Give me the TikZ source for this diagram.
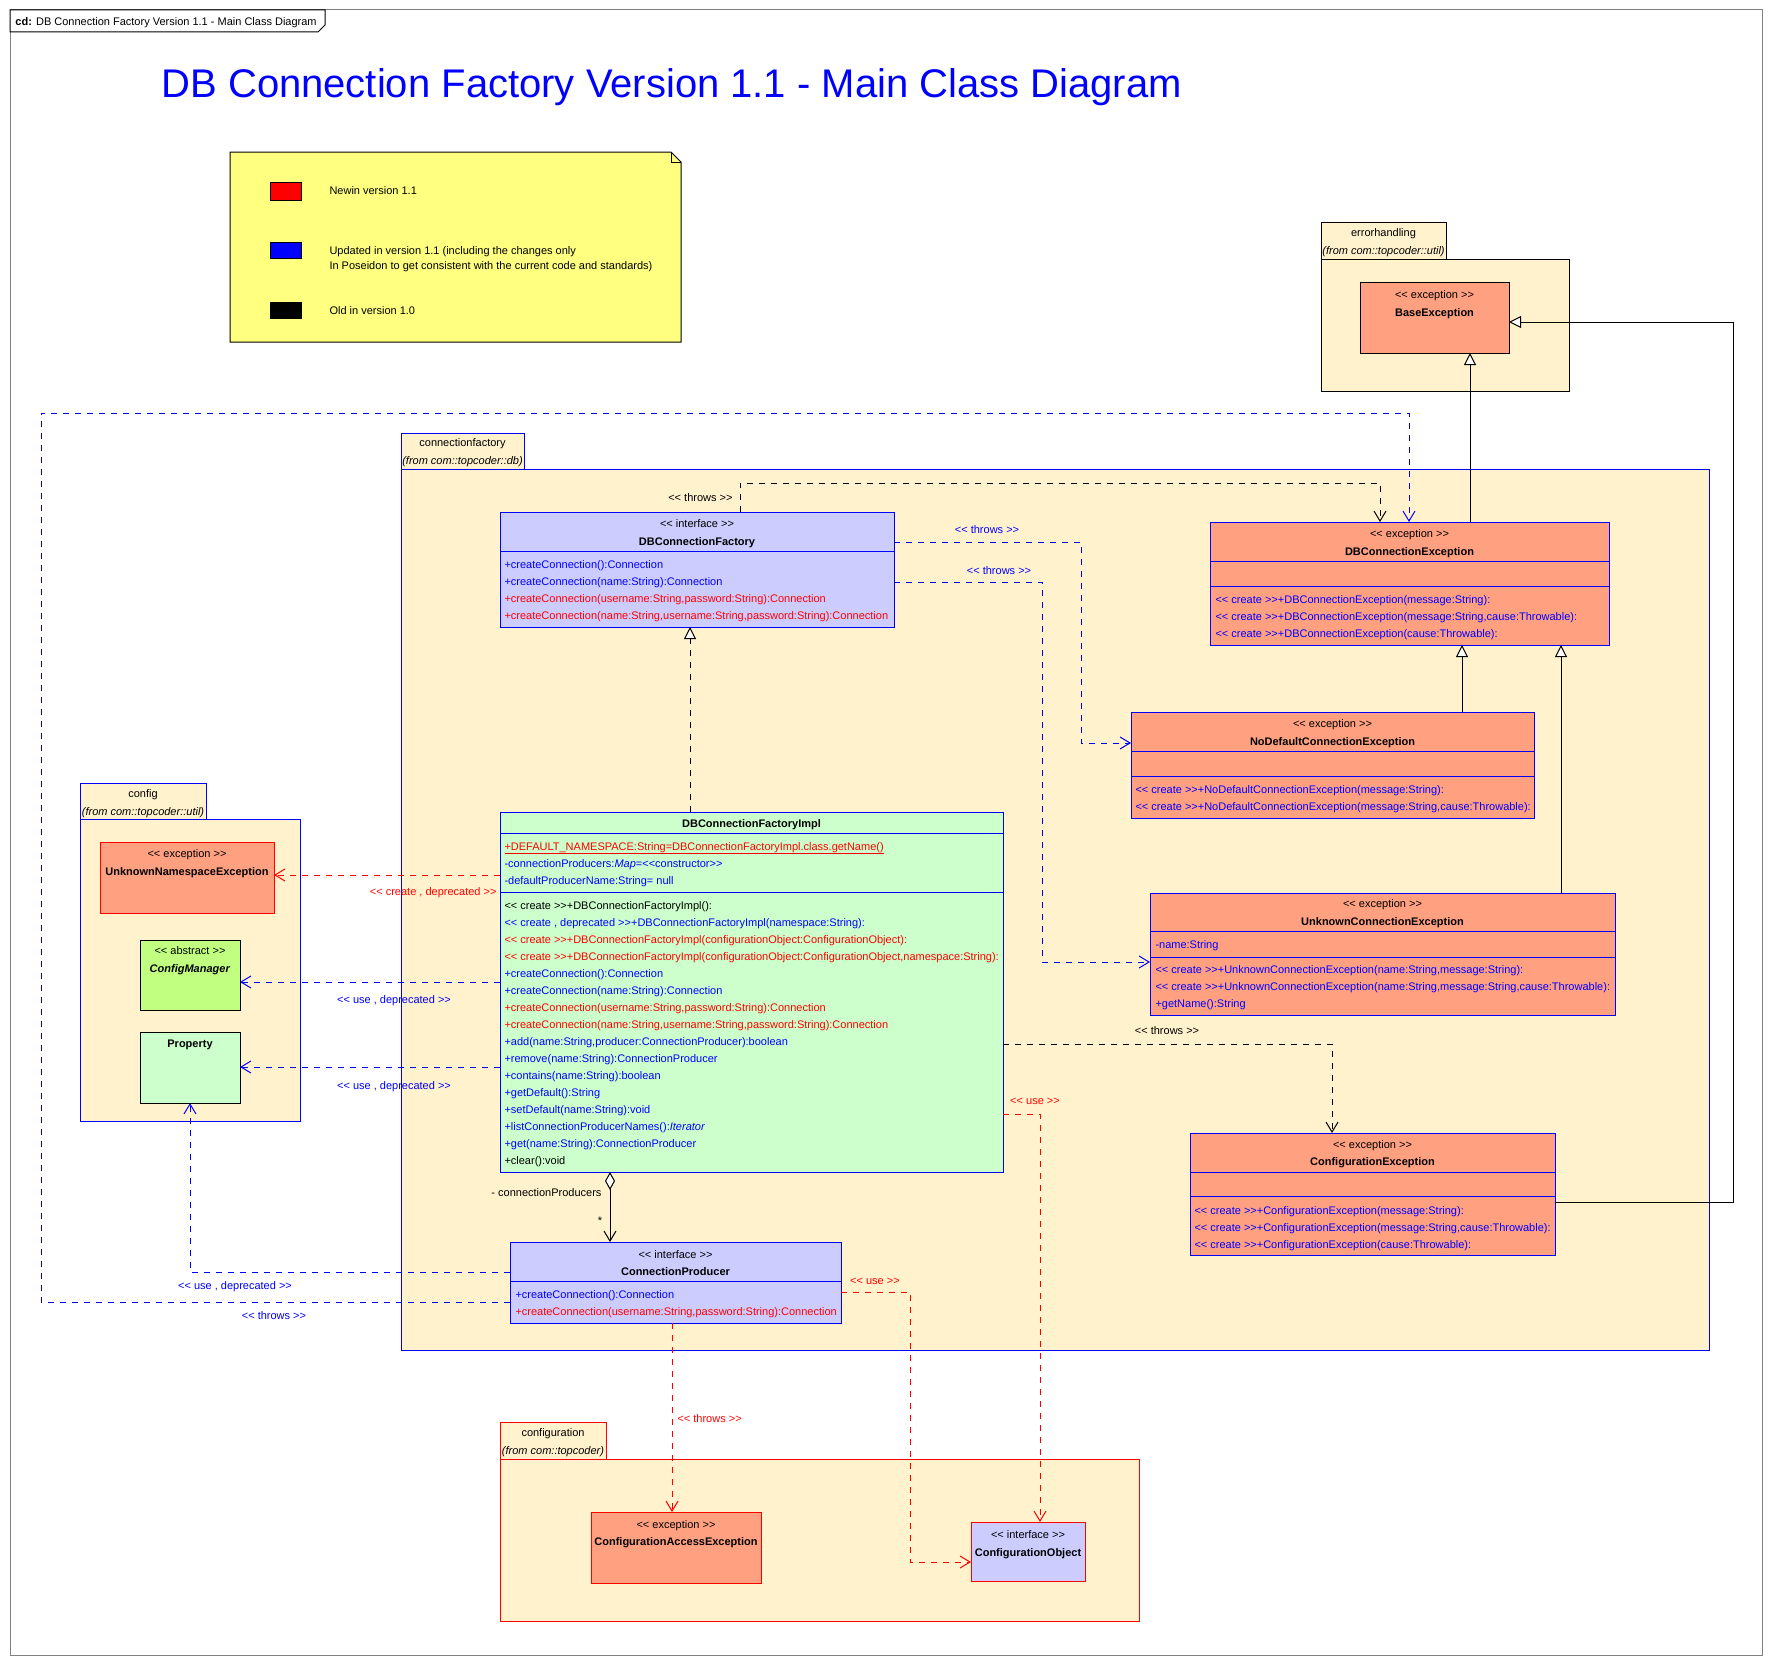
\documentclass[tikz,border=0pt]{standalone}
\usepackage{fontspec}
\newfontfamily\umlfont{Liberation Sans}
\usetikzlibrary{arrows.meta}
\definecolor{pkgfill}{RGB}{255,242,204}
\definecolor{excfill}{RGB}{255,160,128}
\definecolor{ifcfill}{RGB}{204,204,255}
\definecolor{clsfill}{RGB}{204,255,204}
\definecolor{absfill}{RGB}{192,255,128}
\definecolor{notefill}{RGB}{255,255,128}
\definecolor{umlblue}{RGB}{0,0,255}
\definecolor{umlred}{RGB}{255,0,0}

\begin{document}
\begin{tikzpicture}[x=1pt, y=-1pt, line width=1pt,
font=\umlfont\fontsize{11}{13}\selectfont,
box/.style={draw, anchor=north west, inner sep=0pt, outer sep=0pt},
pkg/.style={box, fill=pkgfill},
cls/.style={box, draw=umlblue},
st/.style={anchor=base, inner sep=0pt},
nm/.style={st, font=\umlfont\fontsize{11}{13}\selectfont\bfseries},
from/.style={st, font=\umlfont\fontsize{11}{13}\selectfont\itshape},
txt/.style={anchor=base west, inner sep=0pt},
mth/.style={txt, text=umlblue},
depend/.style={dash pattern=on 6pt off 6pt, -{Straight Barb[length=10pt,width=12pt]}},
real/.style={dash pattern=on 6pt off 6pt, -{Triangle[length=12pt,width=12pt,fill=white]}},
gen/.style={-{Triangle[length=12pt,width=12pt,fill=white]}}]
\useasboundingbox (0,0) rectangle (1770,1662);
\fill[white] (0,0) rectangle (1770,1662);

\node[box, draw=black!50, minimum width=1752, minimum height=1645] (frame) at (10,10) {};
\draw[fill=white] (10,10) -- (325,10) -- (325,25) -- (318,32) -- (10,32) -- cycle;
\node[txt] (frametitle) at (15,26) {\textbf{cd:} DB Connection Factory Version 1.1 - Main Class Diagram};
\node[txt, text=umlblue, font=\umlfont\fontsize{40}{48}\selectfont] (title) at (161,98) {DB Connection Factory Version 1.1 - Main Class Diagram};

\draw[fill=notefill] (230,152) -- (671,152) -- (681,162) -- (681,342) -- (230,342) -- cycle;
\draw (671,152) -- (671,162) -- (681,162);
\node[box, fill=umlred, minimum width=31, minimum height=18] (keynew) at (270,182) {};
\node[box, fill=umlblue, minimum width=31, minimum height=16] (keyupd) at (270,242) {};
\node[box, fill=black, minimum width=31, minimum height=16] (keyold) at (270,302) {};
\node[txt] (keynew-t) at (329,194) {Newin version 1.1};
\node[txt] (keyupd-t1) at (329,254) {Updated in version 1.1 (including the changes only};
\node[txt] (keyupd-t2) at (329,269) {In Poseidon to get consistent with the current code and standards)};
\node[txt] (keyold-t) at (329,314) {Old in version 1.0};

\node[pkg, minimum width=248, minimum height=132] (eh) at (1321,259) {};
\node[pkg, minimum width=125, minimum height=37] (eh-tab) at (1321,222) {};
\node[st] (eh-name) at (1383.5,236) {errorhandling};
\node[from] (eh-from) at (1383.5,254) {(from com::topcoder::util)};

\node[pkg, draw=umlblue, minimum width=1308, minimum height=881] (cf) at (401,469) {};
\node[pkg, draw=umlblue, minimum width=123, minimum height=36] (cf-tab) at (401,433) {};
\node[st] (cf-name) at (462.5,446) {connectionfactory};
\node[from] (cf-from) at (462.5,464) {(from com::topcoder::db)};

\node[pkg, draw=umlblue, minimum width=220, minimum height=302] (cg) at (80,819) {};
\node[pkg, draw=umlblue, minimum width=126, minimum height=36] (cg-tab) at (80,783) {};
\node[st] (cg-name) at (143,797) {config};
\node[from] (cg-from) at (143,815) {(from com::topcoder::util)};

\node[pkg, draw=umlred, minimum width=639, minimum height=162] (cn) at (500,1459) {};
\node[pkg, draw=umlred, minimum width=106, minimum height=37] (cn-tab) at (500,1422) {};
\node[st] (cn-name) at (553,1436) {configuration};
\node[from] (cn-from) at (553,1454) {(from com::topcoder)};

\node[box, fill=excfill, minimum width=149, minimum height=71] (bex) at (1360,282) {};
\node[st] (bex-st) at (1434.5,298) {<< exception >>};
\node[nm] (bex-nm) at (1434.5,316) {BaseException};

\node[cls, fill=ifcfill, minimum width=394, minimum height=115] (dbf) at (500,512) {};
\node[st] (dbf-st) at (697,527) {<< interface >>};
\node[nm] (dbf-nm) at (697,545) {DBConnectionFactory};
\draw[umlblue] (dbf.west |- 0,551) -- (dbf.east |- 0,551);
\foreach \row [count=\i] in {+createConnection():Connection, +createConnection(name:String):Connection,
  {\color{umlred}+createConnection(username:String,password:String):Connection},
  {\color{umlred}+createConnection(name:String,username:String,password:String):Connection}}
  \node[mth] (dbf-m\i) at (504,{551+17*\i}) {\row};

\node[cls, fill=excfill, minimum width=399, minimum height=123] (dbe) at (1210,522) {};
\node[st] (dbe-st) at (1409.5,537) {<< exception >>};
\node[nm] (dbe-nm) at (1409.5,555) {DBConnectionException};
\draw[umlblue] (dbe.west |- 0,561) -- (dbe.east |- 0,561);
\draw[umlblue] (dbe.west |- 0,586) -- (dbe.east |- 0,586);
\foreach \row [count=\i] in {<< create >>+DBConnectionException(message:String):,
  {<< create >>+DBConnectionException(message:String,cause:Throwable):},
  << create >>+DBConnectionException(cause:Throwable):}
  \node[mth] (dbe-m\i) at (1215,{586+17*\i}) {\row};

\node[cls, fill=excfill, minimum width=403, minimum height=106] (nde) at (1131,712) {};
\node[st] (nde-st) at (1332.5,727) {<< exception >>};
\node[nm] (nde-nm) at (1332.5,745) {NoDefaultConnectionException};
\draw[umlblue] (nde.west |- 0,751) -- (nde.east |- 0,751);
\draw[umlblue] (nde.west |- 0,776) -- (nde.east |- 0,776);
\foreach \row [count=\i] in {<< create >>+NoDefaultConnectionException(message:String):,
  {<< create >>+NoDefaultConnectionException(message:String,cause:Throwable):}}
  \node[mth] (nde-m\i) at (1135,{776+17*\i}) {\row};

\node[cls, fill=excfill, minimum width=465, minimum height=122] (uce) at (1150,893) {};
\node[st] (uce-st) at (1382.5,907) {<< exception >>};
\node[nm] (uce-nm) at (1382.5,925) {UnknownConnectionException};
\draw[umlblue] (uce.west |- 0,931) -- (uce.east |- 0,931);
\draw[umlblue] (uce.west |- 0,957) -- (uce.east |- 0,957);
\node[mth] (uce-a1) at (1155,948) {-name:String};
\foreach \row [count=\i] in {{<< create >>+UnknownConnectionException(name:String,message:String):},
  {<< create >>+UnknownConnectionException(name:String,message:String,cause:Throwable):},
  +getName():String}
  \node[mth] (uce-m\i) at (1155,{956+17*\i}) {\row};

\node[cls, fill=excfill, minimum width=365, minimum height=122] (cfe) at (1190,1133) {};
\node[st] (cfe-st) at (1372.5,1148) {<< exception >>};
\node[nm] (cfe-nm) at (1372.5,1165) {ConfigurationException};
\draw[umlblue] (cfe.west |- 0,1172) -- (cfe.east |- 0,1172);
\draw[umlblue] (cfe.west |- 0,1196) -- (cfe.east |- 0,1196);
\foreach \row [count=\i] in {<< create >>+ConfigurationException(message:String):,
  {<< create >>+ConfigurationException(message:String,cause:Throwable):},
  << create >>+ConfigurationException(cause:Throwable):}
  \node[mth] (cfe-m\i) at (1194,{1197+17*\i}) {\row};

\node[cls, fill=clsfill, minimum width=503, minimum height=360] (impl) at (500,812) {};
\node[nm] (impl-nm) at (751.5,827) {DBConnectionFactoryImpl};
\draw[umlblue] (impl.west |- 0,833) -- (impl.east |- 0,833);
\draw[umlblue] (impl.west |- 0,892) -- (impl.east |- 0,892);
\foreach \row [count=\i] in {{\color{umlred}\underline{+DEFAULT\_NAMESPACE:String=DBConnectionFactoryImpl.class.getName()}},
  -connectionProducers:\textit{Map}=<<constructor>>, -defaultProducerName:String= null}
  \node[mth] (impl-a\i) at (504,{833+17*\i}) {\row};
\foreach \row [count=\i] in {{\color{black}<< create >>+DBConnectionFactoryImpl():},
  {<< create , deprecated >>+DBConnectionFactoryImpl(namespace:String):},
  {\color{umlred}<< create >>+DBConnectionFactoryImpl(configurationObject:ConfigurationObject):},
  {\color{umlred}<< create >>+DBConnectionFactoryImpl(configurationObject:ConfigurationObject,namespace:String):},
  +createConnection():Connection, +createConnection(name:String):Connection,
  {\color{umlred}+createConnection(username:String,password:String):Connection},
  {\color{umlred}+createConnection(name:String,username:String,password:String):Connection},
  {+add(name:String,producer:ConnectionProducer):boolean},
  +remove(name:String):ConnectionProducer, +contains(name:String):boolean,
  +getDefault():String, +setDefault(name:String):void,
  +listConnectionProducerNames():\textit{Iterator},
  +get(name:String):ConnectionProducer, {\color{black}+clear():void}}
  \node[mth] (impl-m\i) at (504,{892+17*\i}) {\row};

\node[cls, fill=ifcfill, minimum width=331, minimum height=81] (cp) at (510,1242) {};
\node[st] (cp-st) at (675.5,1258) {<< interface >>};
\node[nm] (cp-nm) at (675.5,1275) {ConnectionProducer};
\draw[umlblue] (cp.west |- 0,1281) -- (cp.east |- 0,1281);
\foreach \row [count=\i] in {+createConnection():Connection,
  {\color{umlred}+createConnection(username:String,password:String):Connection}}
  \node[mth] (cp-m\i) at (515,{1281+17*\i}) {\row};

\node[box, draw=umlred, fill=excfill, minimum width=174, minimum height=71] (une) at (100,842) {};
\node[st] (une-st) at (187,857) {<< exception >>};
\node[nm] (une-nm) at (187,875) {UnknownNamespaceException};

\node[box, fill=absfill, minimum width=100, minimum height=70] (cm) at (140,940) {};
\node[st] (cm-st) at (190,954) {<< abstract >>};
\node[nm] (cm-nm) at (190,972) {\textit{ConfigManager}};

\node[box, fill=clsfill, minimum width=100, minimum height=71] (prop) at (140,1032) {};
\node[nm] (prop-nm) at (190,1047) {Property};

\node[box, draw=umlred, fill=excfill, minimum width=170, minimum height=71] (cae) at (591,1512) {};
\node[st] (cae-st) at (676,1528) {<< exception >>};
\node[nm] (cae-nm) at (676,1545) {ConfigurationAccessException};

\node[box, draw=umlred, fill=ifcfill, minimum width=114, minimum height=59] (cob) at (971,1522) {};
\node[st] (cob-st) at (1028,1538) {<< interface >>};
\node[nm] (cob-nm) at (1028,1556) {ConfigurationObject};

\draw[real] (impl.north -| 690,0) -- (dbf.south -| 690,0);
\draw[{Diamond[length=18pt,width=10pt,fill=white]}-{Straight Barb[length=10pt,width=12pt]}] (impl.south -| 610,0) -- (cp.north -| 610,0);
\node[txt, anchor=base east] (agg-role) at (602,1196) {- connectionProducers};
\node[st] (agg-mult) at (600,1224) {*};

\draw[depend] (dbf.north -| 740,0) |- (1380,483) -- (dbe.north -| 1380,0);
\node[txt, anchor=base east] (thr-dbf) at (733,501) {<< throws >>};
\draw[depend, umlblue] (cp.west |- 0,1302) -| (41,413) -| (dbe.north -| 1409,0);
\node[st, text=umlblue] (thr-cp) at (274,1319) {<< throws >>};
\draw[depend, umlblue] (dbf.east |- 0,542) -| (1081,743) -- (nde.west |- 0,743);
\node[st, text=umlblue] (thr-nde) at (987,533) {<< throws >>};
\draw[depend, umlblue] (dbf.east |- 0,582) -| (1042,962) -- (uce.west |- 0,962);
\node[st, text=umlblue] (thr-uce) at (999,574) {<< throws >>};
\draw[depend] (impl.east |- 0,1044) -| (cfe.north -| 1332,0);
\node[st] (thr-cfe) at (1167,1034) {<< throws >>};
\draw[depend, umlred] (impl.east |- 0,1114) -| (cob.north -| 1040,0);
\node[st, text=umlred] (use-impl) at (1035,1104) {<< use >>};
\draw[depend, umlred] (cp.east |- 0,1292) -| (910,1562) -- (cob.west |- 0,1562);
\node[st, text=umlred] (use-cp) at (875,1284) {<< use >>};
\draw[depend, umlred] (cp.south -| 672,0) -- (cae.north -| 672,0);
\node[txt, text=umlred] (thr-cae) at (677,1422) {<< throws >>};
\draw[depend, umlred] (impl.west |- 0,875) -- (une.east |- 0,875);
\node[txt, anchor=base east, text=umlred] (crt-une) at (497,895) {<< create , deprecated >>};
\draw[depend, umlblue] (impl.west |- 0,982) -- (cm.east |- 0,982);
\node[st, text=umlblue] (use-cm) at (394,1003) {<< use , deprecated >>};
\draw[depend, umlblue] (impl.west |- 0,1067) -- (prop.east |- 0,1067);
\node[st, text=umlblue] (use-prop) at (394,1089) {<< use , deprecated >>};
\draw[depend, umlblue] (cp.west |- 0,1272) -| (prop.south);
\node[st, text=umlblue] (use-cpprop) at (235,1289) {<< use , deprecated >>};

\draw[gen] (dbe.north -| 1470,0) -- (bex.south -| 1470,0);
\draw[gen] (nde.north -| 1462,0) -- (dbe.south -| 1462,0);
\draw[gen] (uce.north -| 1561,0) -- (dbe.south -| 1561,0);
\draw[gen] (cfe.east |- 0,1202) -| (1733,322) -- (bex.east |- 0,322);
\end{tikzpicture}
\end{document}
